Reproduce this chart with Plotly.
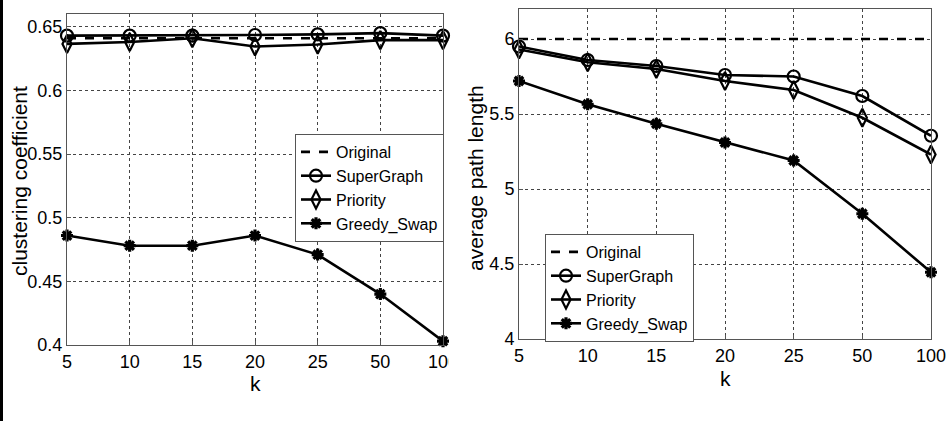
import plotly.graph_objects as go

k_labels = ["5", "10", "15", "20", "25", "50", "100"]

# Left panel: clustering coefficient
cc_original = [0.641, 0.641, 0.641, 0.641, 0.641, 0.641, 0.641]
cc_supergraph = [0.643, 0.643, 0.643, 0.6435, 0.644, 0.645, 0.643]
cc_priority = [0.6365, 0.638, 0.641, 0.6345, 0.636, 0.6395, 0.6395]
cc_greedy = [0.486, 0.478, 0.478, 0.486, 0.471, 0.440, 0.403]

# Right panel: average path length
apl_original = [6.0, 6.0, 6.0, 6.0, 6.0, 6.0, 6.0]
apl_supergraph = [5.95, 5.86, 5.82, 5.76, 5.75, 5.62, 5.355]
apl_priority = [5.93, 5.845, 5.80, 5.72, 5.66, 5.475, 5.23]
apl_greedy = [5.72, 5.565, 5.435, 5.31, 5.19, 4.835, 4.445]

cc_ticks = [0.4, 0.45, 0.5, 0.55, 0.6, 0.65]
cc_ticktext = ["0.4", "0.45", "0.5", "0.55", "0.6", "0.65"]
apl_ticks = [4, 4.5, 5, 5.5, 6]
apl_ticktext = ["4", "4.5", "5", "5.5", "6"]

FONT = "Liberation Sans, Arial, sans-serif"
NARROW = "Liberation Sans Narrow, Arial Narrow, Liberation Sans, sans-serif"
W, H = 947, 421

fig = go.Figure()

def add_series(x, y, name, xa, ya, legend, symbol=None, dash="solid", msize=11, mlw=2.2):
    mode = "lines" if symbol is None else "lines+markers"
    marker = None
    if symbol is not None:
        marker = dict(symbol=symbol, size=msize, color="black",
                      line=dict(color="black", width=mlw))
    fig.add_trace(go.Scatter(
        x=x, y=y, name=name, mode=mode, xaxis=xa, yaxis=ya, legend=legend,
        line=dict(color="black", width=2.6, dash=dash),
        marker=marker, cliponaxis=False,
    ))

for xa, ya, lg, data in [
    ("x", "y", "legend", (cc_original, cc_supergraph, cc_priority, cc_greedy)),
    ("x2", "y2", "legend2", (apl_original, apl_supergraph, apl_priority, apl_greedy)),
]:
    orig, sg, pr, gr = data
    add_series(k_labels, orig, "Original", xa, ya, lg, None, dash="dash")
    add_series(k_labels, sg, "SuperGraph", xa, ya, lg, "circle-open", msize=12)
    add_series(k_labels, pr, "Priority", xa, ya, lg, "diamond-tall-open", msize=13)
    add_series(k_labels, gr, "Greedy_Swap", xa, ya, lg, "asterisk-open", msize=10, mlw=3.2)

def px_x(p):
    return p / W

def px_y(p):
    return 1 - p / H

axis_common = dict(
    showline=True, mirror=True, linecolor="#555555", linewidth=1,
    showgrid=True, gridcolor="#444444", griddash="dot", gridwidth=1,
    ticks="inside", ticklen=4, tickcolor="#555555",
    tickfont=dict(family=NARROW, size=18, color="black"),
    zeroline=False, automargin=False,
)

legend_common = dict(
    xanchor="left", yanchor="top",
    bgcolor="white", bordercolor="#555555", borderwidth=1,
    font=dict(family=FONT, size=16, color="black"),
    tracegroupgap=0, itemwidth=30,
)

fig.update_layout(
    width=W, height=H, autosize=False,
    margin=dict(l=0, r=0, t=0, b=0, autoexpand=False),
    paper_bgcolor="white", plot_bgcolor="white",
    font=dict(family=FONT, color="black"),
    xaxis=dict(domain=[px_x(67), px_x(443)], anchor="y", type="category",
               range=[0, 6], **axis_common),
    yaxis=dict(domain=[px_y(345), px_y(14)], anchor="x", range=[0.4, 0.66],
               tickvals=cc_ticks, ticktext=cc_ticktext, **axis_common),
    xaxis2=dict(domain=[px_x(519), px_x(931)], anchor="y2", type="category",
                range=[0, 6], **axis_common),
    yaxis2=dict(domain=[px_y(339), px_y(9)], anchor="x2", range=[4, 6.2],
                tickvals=apl_ticks, ticktext=apl_ticktext, **axis_common),
    legend=dict(x=px_x(295), y=px_y(134), **legend_common),
    legend2=dict(x=px_x(545), y=px_y(234), **legend_common),
    showlegend=True,
)

annotations = [
    dict(text="k", x=px_x(255), y=px_y(383), xref="paper", yref="paper",
         xanchor="center", yanchor="middle",
         showarrow=False, font=dict(family=FONT, size=21, color="black")),
    dict(text="k", x=px_x(725), y=px_y(378), xref="paper", yref="paper",
         xanchor="center", yanchor="middle",
         showarrow=False, font=dict(family=FONT, size=21, color="black")),
    dict(text="clustering coefficient", x=px_x(19), y=px_y(181), xref="paper",
         yref="paper", xanchor="center", yanchor="middle",
         showarrow=False, textangle=-90,
         font=dict(family=FONT, size=21, color="black")),
    dict(text="average path length", x=px_x(475), y=px_y(178), xref="paper",
         yref="paper", xanchor="center", yanchor="middle",
         showarrow=False, textangle=-90,
         font=dict(family=FONT, size=21, color="black")),
]
fig.update_layout(annotations=annotations)

# left edge dark strip of the scanned figure
fig.add_shape(type="rect", xref="paper", yref="paper", x0=0, x1=px_x(3),
              y0=0, y1=1, fillcolor="black", line=dict(width=0), layer="above")
# the left panel's last tick label is cut off at its right edge in the original
fig.add_shape(type="rect", xref="paper", yref="paper", x0=px_x(448.5), x1=px_x(462),
              y0=px_y(372), y1=px_y(349), fillcolor="white", line=dict(width=0),
              layer="above")

fig.write_html("out.html", config={"displayModeBar": False})
